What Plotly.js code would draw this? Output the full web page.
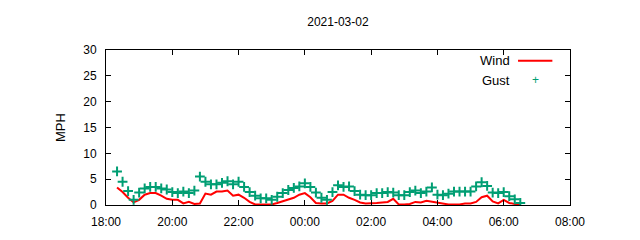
<!DOCTYPE html>
<html>
<head>
<meta charset="utf-8">
<script src="https://cdn.plot.ly/plotly-3.0.1.min.js"></script>
<style>html,body{margin:0;padding:0;background:#fff}#chart{width:640px;height:240px}</style>
</head>
<body>
<div id="chart"></div>
<script>
// Sample times (10-minute readings)
const startTime = "2021-03-02T18:20:00";
const stepMinutes = 10;
const windMph = [3.4,2.5,1.4,0.5,1.0,2.0,2.3,2.3,1.8,1.2,1.0,1.0,0.3,0.6,0.2,0.3,2.2,2.0,2.6,2.6,2.8,1.8,2.0,1.4,0.6,0.1,0.1,0.1,0.1,0.4,0.7,1.0,1.4,2.0,2.3,1.5,0.4,0.3,0.3,0.8,2.0,2.0,1.4,1.0,0.5,0.3,0.3,0.4,0.5,0.6,1.2,0.1,0.1,0.2,0.6,0.5,0.8,0.6,0.5,0.3,0.1,0.1,0.1,0.3,0.3,0.6,1.5,1.8,0.7,0.3,1.0,0.4,0.2,0.2];
const gustMph = [6.5,4.5,2.7,1.0,2.4,3.2,3.5,3.5,3.2,3.0,2.5,2.3,2.6,2.3,2.8,5.5,4.5,4.0,4.0,4.3,4.6,4.0,4.5,3.5,2.5,1.8,1.3,1.3,1.0,1.6,2.3,2.9,3.3,3.6,4.2,3.5,2.4,1.4,1.0,2.5,3.8,3.5,3.6,2.7,2.0,1.9,1.9,2.3,2.3,2.5,2.4,1.9,1.9,2.5,2.8,2.3,2.6,3.4,2.0,1.9,2.2,2.6,2.6,2.6,2.6,3.6,4.4,3.7,2.4,2.3,2.5,1.7,1.1,0.4];
const yTicks = [0,5,10,15,20,25,30];
const xRange = ["2021-03-02T18:00:00","2021-03-03T08:00:00"];
const titleText = "2021-03-02";
const seriesNames = ["Wind","Gust"];

function pad(n){return (n<10?"0":"")+n;}
const t0 = new Date(startTime + "Z").getTime();
const times = windMph.map((_, i) => {
  const d = new Date(t0 + i*stepMinutes*60000);
  return d.getUTCFullYear()+"-"+pad(d.getUTCMonth()+1)+"-"+pad(d.getUTCDate())+" "+pad(d.getUTCHours())+":"+pad(d.getUTCMinutes());
});

const font = {family: "Liberation Sans, Arial, sans-serif", size: 12, color: "#000"};
const traces = [
  {x: times, y: windMph, name: seriesNames[0], mode: "lines", line: {color: "#ff0000", width: 2}, showlegend: false},
  {x: times, y: gustMph, name: seriesNames[1], mode: "markers",
   marker: {symbol: "cross-thin-open", size: 7, color: "#009e73", line: {color: "#009e73", width: 2}}, showlegend: false}
];
const layout = {
  width: 640, height: 240,
  margin: {l: 106, r: 70, t: 50, b: 35},
  paper_bgcolor: "#fff", plot_bgcolor: "#fff",
  font: font,
  title: {text: titleText, x: 0.528, xanchor: "center", y: 0.91, yanchor: "middle", font: {family: font.family, size: 12, color: "#000"}},
  xaxis: {type: "date", range: xRange, dtick: 7200000, tickformat: "%H:%M", ticks: "inside", ticklen: 5,
          ticklabelstandoff: 6,
          showline: true, linecolor: "#000", linewidth: 1, mirror: "ticks", showgrid: false, zeroline: false,
          tickfont: font, tickcolor: "#000"},
  yaxis: {range: [0, 30], tickvals: yTicks, ticks: "inside", ticklen: 5,
          ticklabelstandoff: 6,
          showline: true, linecolor: "#000", linewidth: 1, mirror: "ticks", showgrid: false, zeroline: false,
          tickfont: font, tickcolor: "#000",
          title: {text: "MPH", font: {family: font.family, size: 13, color: "#000"}, standoff: 14}},
  annotations: [
    {xref: "paper", yref: "paper", x: 0.876, y: 0.93, xanchor: "right", yanchor: "middle", text: seriesNames[0], showarrow: false, font: {family: font.family, size: 13, color: "#000"}},
    {xref: "paper", yref: "paper", x: 0.876, y: 0.805, xanchor: "right", yanchor: "middle", text: seriesNames[1], showarrow: false, font: {family: font.family, size: 13, color: "#000"}},
    {xref: "paper", yref: "paper", x: 0.925, y: 0.805, xanchor: "center", yanchor: "middle", text: "+", showarrow: false, font: {family: font.family, size: 12, color: "#009e73"}}
  ],
  shapes: [
    {type: "line", xref: "paper", yref: "paper", x0: 0.888, x1: 0.962, y0: 0.93, y1: 0.93, line: {color: "#ff0000", width: 2}}
  ]
};
Plotly.newPlot("chart", traces, layout, {staticPlot: true, displayModeBar: false});
</script>
</body>
</html>
